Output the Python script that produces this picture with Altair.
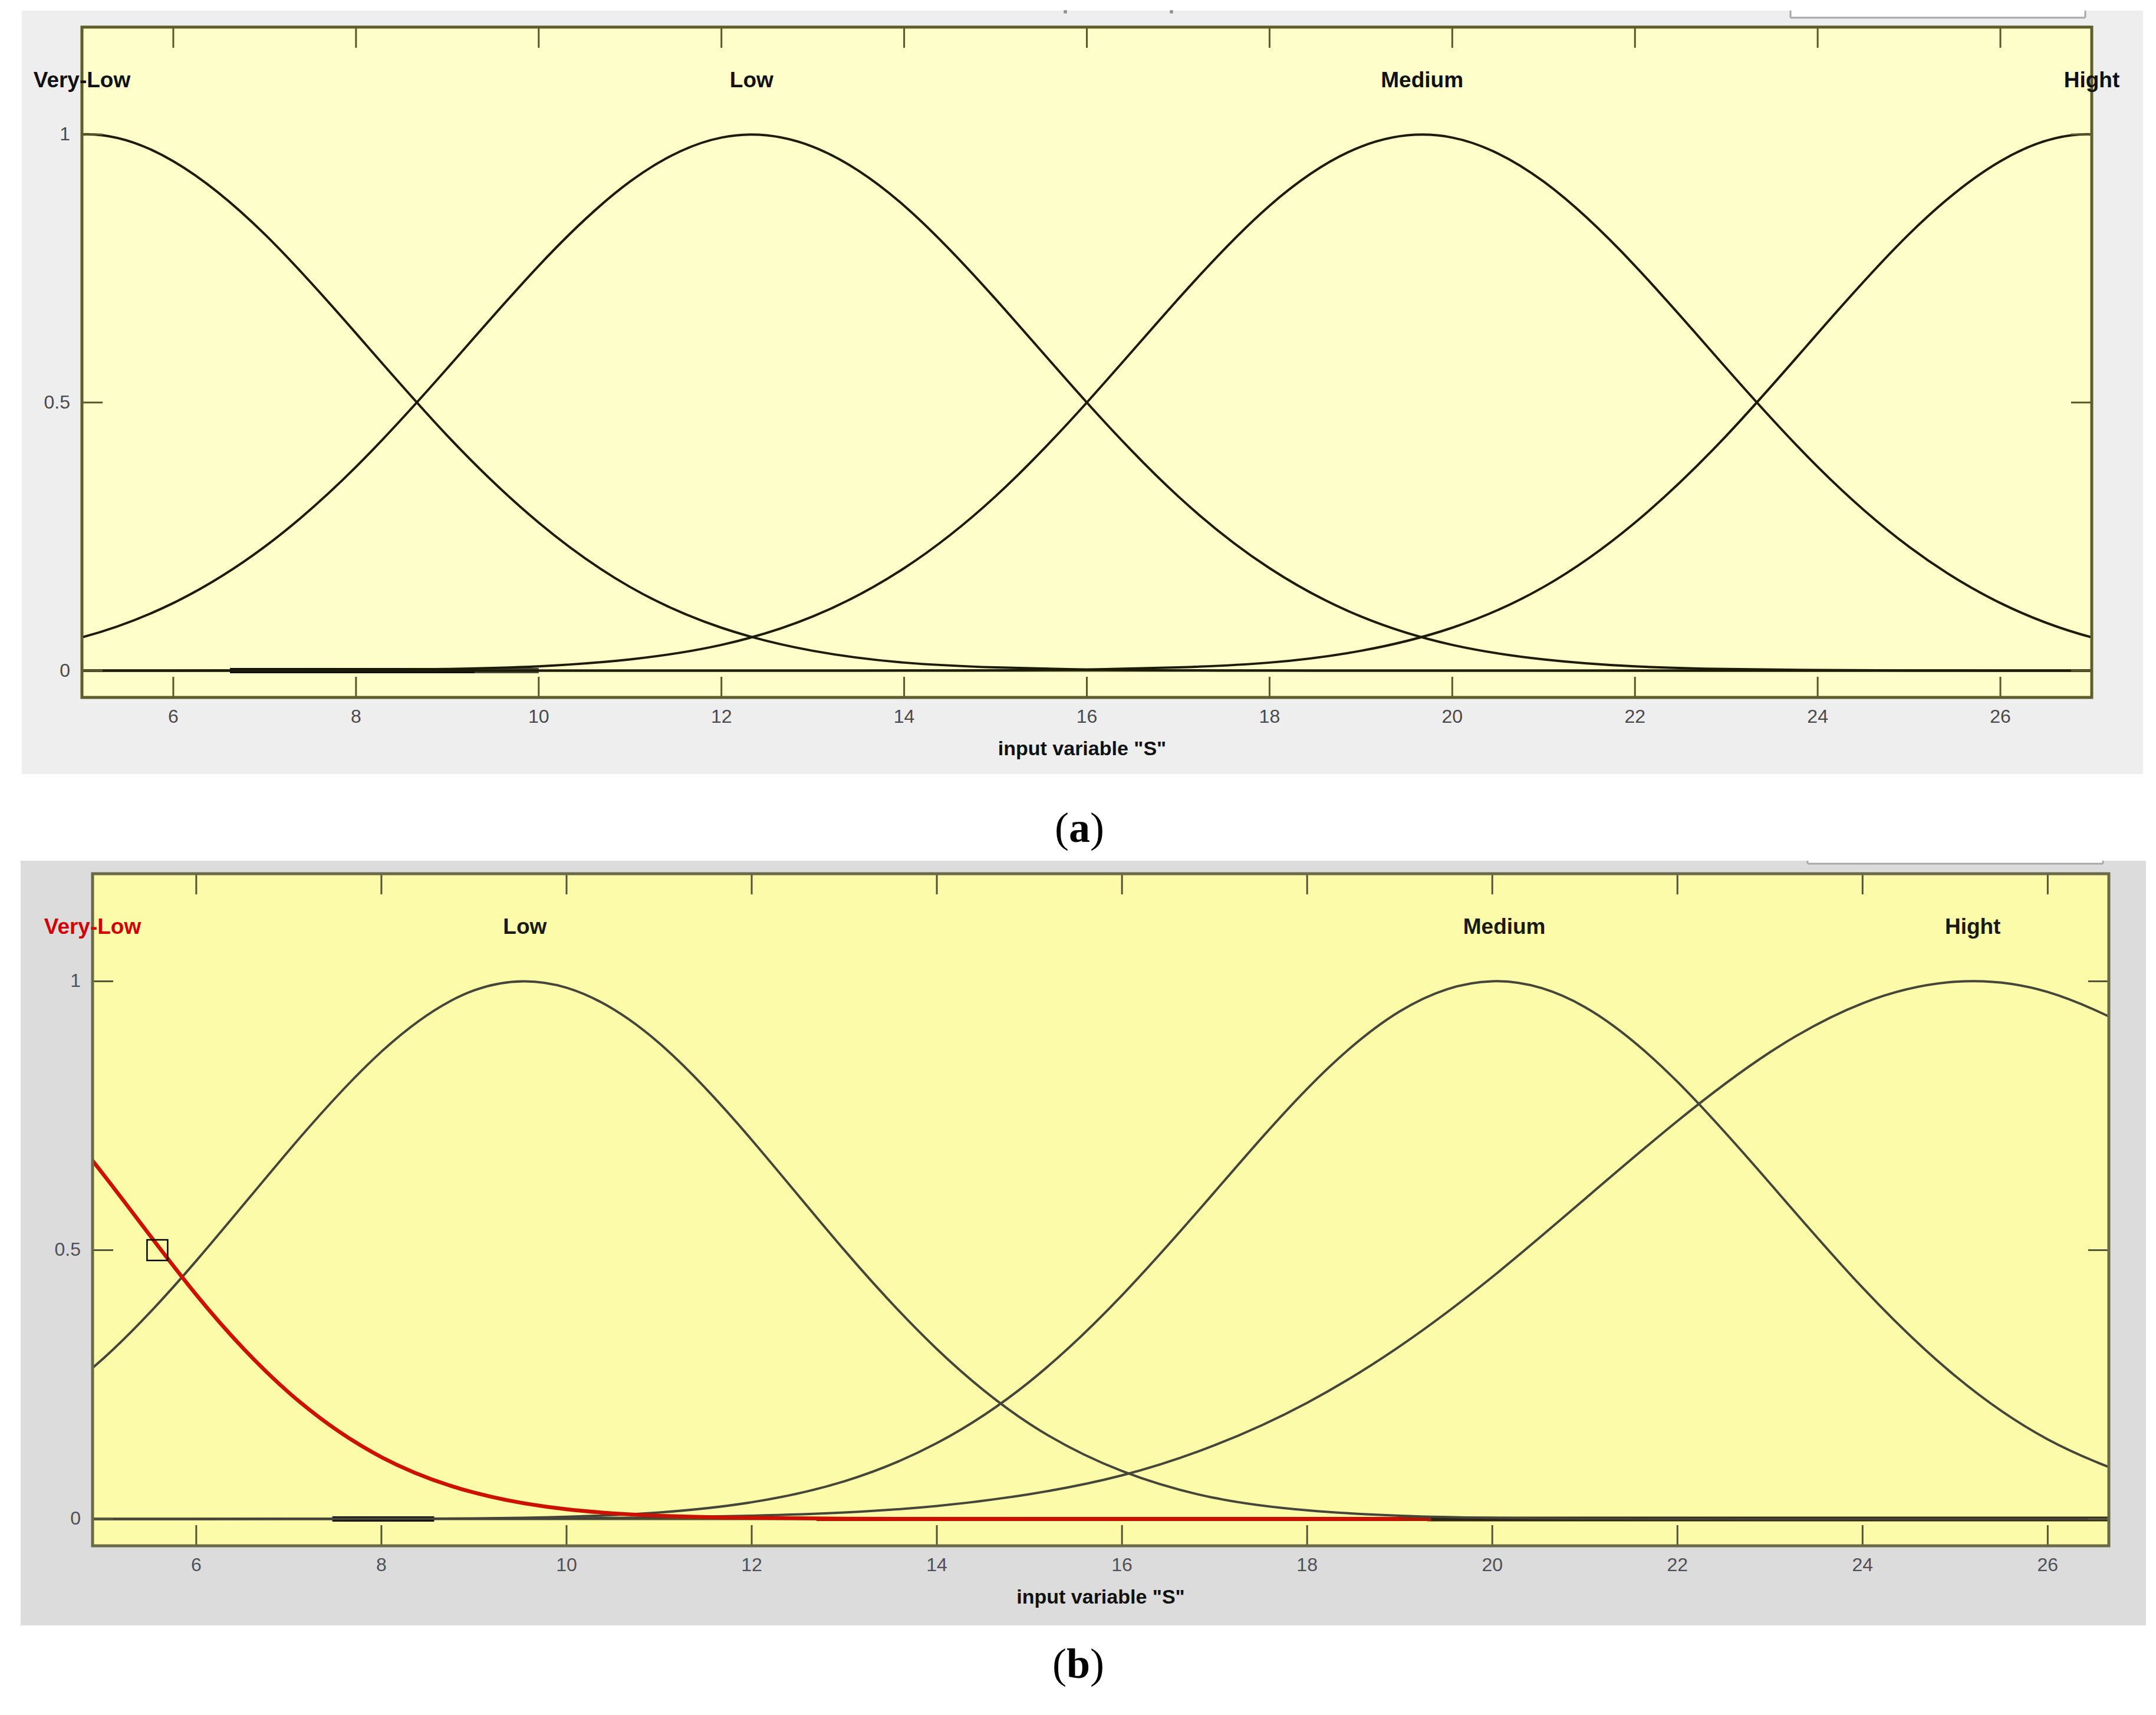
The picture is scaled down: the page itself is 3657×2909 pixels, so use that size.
import altair as alt
import pandas as pd

# ---------------- shared texts / ticks ----------------
MF_NAMES = ["Very-Low", "Low", "Medium", "Hight"]
X_TICKS = [6, 8, 10, 12, 14, 16, 18, 20, 22, 24, 26]
X_TICK_LABELS = ["6", "8", "10", "12", "14", "16", "18", "20", "22", "24", "26"]
Y_TICKS = [0, 0.5, 1]
Y_TICK_LABELS = ["0", "0.5", "1"]
X_TITLE = 'input variable "S"'

# ---------------- panel (a) ----------------
A_DOMAIN = [5, 27]
A_X = list(range(4, 29))
A_VERY_LOW = [0.950, 1.000, 0.950, 0.814, 0.629, 0.438, 0.276, 0.156, 0.080, 0.037,
              0.015, 0.006, 0.002, 0.0006, 0.0002, 0, 0, 0, 0, 0, 0, 0, 0, 0, 0]
A_LOW = [0.028, 0.062, 0.126, 0.231, 0.380, 0.564, 0.755, 0.912, 0.994, 0.977,
         0.867, 0.693, 0.500, 0.325, 0.191, 0.101, 0.048, 0.021, 0.008, 0.003,
         0.001, 0.0003, 0.0001, 0, 0]
A_MEDIUM = [0, 0, 0.0001, 0.0003, 0.001, 0.003, 0.008, 0.021, 0.048, 0.101,
            0.191, 0.325, 0.500, 0.693, 0.867, 0.977, 0.994, 0.912, 0.755, 0.564,
            0.380, 0.231, 0.126, 0.062, 0.028]
A_HIGHT = [0, 0, 0, 0, 0, 0, 0, 0, 0, 0, 0.0002, 0.0006, 0.002, 0.006, 0.015,
           0.037, 0.080, 0.156, 0.276, 0.438, 0.629, 0.814, 0.950, 1.000, 0.950]
A_LABEL_X = [5, 12.33, 19.67, 27]
A_LABEL_Y = [1.1, 1.1, 1.1, 1.1]
A_ZERO_X0 = [5, 6.62, 9.3]
A_ZERO_X1 = [27, 9.3, 10.0]

# ---------------- panel (b) ----------------
B_DOMAIN = [4.88, 26.66]
B_X = list(range(4, 28))
B_VERY_LOW = [0.851, 0.640, 0.417, 0.235, 0.115, 0.049, 0.018, 0.006, 0.002, 0.0004,
              0.0001, 0, 0, 0, 0, 0]  # x = 4 .. 19
B_LOW = [0.166, 0.299, 0.480, 0.685, 0.869, 0.983, 0.988, 0.885, 0.705, 0.500,
         0.316, 0.177, 0.089, 0.039, 0.016, 0.006, 0.002, 0.0005, 0.0001, 0, 0, 0, 0, 0]
B_MEDIUM = [0, 0, 0, 0.0001, 0.0004, 0.001, 0.004, 0.012, 0.031, 0.070,
            0.141, 0.255, 0.416, 0.608, 0.800, 0.944, 1.000, 0.952, 0.813, 0.624,
            0.430, 0.266, 0.148, 0.074]
B_HIGHT = [0, 0, 0, 0.0001, 0.0002, 0.0004, 0.001, 0.0025, 0.006, 0.012,
           0.024, 0.046, 0.081, 0.137, 0.216, 0.321, 0.450, 0.595, 0.740, 0.868,
           0.959, 0.999, 0.980, 0.906]
B_LABEL_X = [4.88, 9.55, 20.13, 25.19]
B_LABEL_Y = [1.1, 1.1, 1.1, 1.1]
B_MARKER_X = [5.58]
B_MARKER_Y = [0.5]
B_ZERO_X0 = [4.88, 19.3, 7.47, 12.7]
B_ZERO_X1 = [19.3, 26.66, 8.57, 19.34]

ONE = pd.DataFrame({"k": [0]})
YDOM = [-0.05, 1.2]


def px_rect(x, x2, y, y2, **mk):
    return alt.Chart(ONE).mark_rect(**mk).encode(
        x=alt.value(x), x2=alt.value(x2), y=alt.value(y), y2=alt.value(y2))


def px_rule(x, x2, y, y2, color, width):
    return alt.Chart(ONE).mark_rule(color=color, strokeWidth=width).encode(
        x=alt.value(x), x2=alt.value(x2), y=alt.value(y), y2=alt.value(y2))


def px_text(x, y, text, **mk):
    return alt.Chart(ONE).mark_text(text=text, **mk).encode(x=alt.value(x), y=alt.value(y))


def caption(cx, y, letter, lw):
    tot = 24 + lw + 24
    x0 = cx - tot / 2
    common = dict(font="Liberation Serif", fontSize=72, color="black",
                  align="center", baseline="alphabetic")
    return [
        px_text(x0 + 12, y, "(", **common),
        px_text(x0 + 24 + lw / 2, y, letter, fontWeight="bold", **common),
        px_text(x0 + 24 + lw + 12, y, ")", **common),
    ]


def panel(W, H, dx, dom, xs, series, line_col, line_w, label_x, label_y, label_cols,
          zero_x0, zero_x1, zero_cols, zero_w, gray, yellow, frame_col, tick_col,
          tick_lab_col, ext, gray_ext, title_dx, cap, box, extra):
    xs_ = alt.Scale(domain=dom, range=[dx, W + dx], nice=False, zero=False)
    ys_ = alt.Scale(domain=YDOM, nice=False, zero=False)

    rows = []
    for name, vals in series:
        for xv, yv in zip(xs, vals):
            rows.append({"x": xv, "y": yv, "mf": name})
    ldf = pd.DataFrame(rows)

    layers = []
    # invisible bounds + grey panel + yellow plot area
    layers.append(px_rect(ext[0] + dx, W + ext[1] + dx, ext[2], H + ext[3], color="white"))
    layers.append(px_rect(gray_ext[0] + dx, W + gray_ext[1] + dx, gray_ext[2], H + gray_ext[3],
                          color=gray))
    layers.append(px_rect(dx, W + dx, 0, H, color=yellow))

    # zero line and thick near-zero segments
    zdf = pd.DataFrame({"x0": zero_x0, "x1": zero_x1, "y0": [0] * len(zero_x0),
                        "col": zero_cols, "sw": zero_w})
    layers.append(alt.Chart(zdf).mark_rule().encode(
        x=alt.X("x0:Q", scale=xs_, axis=None), x2="x1:Q",
        y=alt.Y("y0:Q", scale=ys_, axis=None),
        color=alt.Color("col:N", scale=None), strokeWidth=alt.StrokeWidth("sw:Q", scale=None)))

    # membership function curves
    layers.append(alt.Chart(ldf).mark_line(interpolate="natural", clip=True,
                                           strokeWidth=line_w, color=line_col).encode(
        x=alt.X("x:Q", scale=xs_, axis=None),
        y=alt.Y("y:Q", scale=ys_, axis=None),
        detail="mf:N"))

    for lay in extra(xs_, ys_, dx):
        layers.append(lay)

    # cover the strip between the group origin and the shifted plot area
    if dx > 0:
        layers.append(px_rect(0, dx - 1, 0, H, color=gray))

    # inner tick marks
    tdf = pd.DataFrame({"t": X_TICKS, "lab": X_TICK_LABELS})
    ydf = pd.DataFrame({"t": Y_TICKS, "lab": Y_TICK_LABELS})
    for y1, y2 in [(H, H - 35), (0, 35)]:
        layers.append(alt.Chart(tdf).mark_rule(color=tick_col, strokeWidth=3).encode(
            x=alt.X("t:Q", scale=xs_, axis=None), y=alt.value(y1), y2=alt.value(y2)))
    for x1, x2 in [(dx, dx + 35), (W + dx - 35, W + dx)]:
        layers.append(alt.Chart(ydf).mark_rule(color=tick_col, strokeWidth=3).encode(
            y=alt.Y("t:Q", scale=ys_, axis=None), x=alt.value(x1), x2=alt.value(x2)))

    # tick labels
    layers.append(alt.Chart(tdf).mark_text(font="Liberation Sans", fontSize=32,
                                           color=tick_lab_col, align="center",
                                           baseline="middle").encode(
        x=alt.X("t:Q", scale=xs_, axis=None), y=alt.value(H + 33), text="lab:N"))
    layers.append(alt.Chart(ydf).mark_text(font="Liberation Sans", fontSize=32,
                                           color=tick_lab_col, align="right",
                                           baseline="middle").encode(
        y=alt.Y("t:Q", scale=ys_, axis=None), x=alt.value(dx - 20), text="lab:N"))

    # frame
    layers.append(px_rect(dx, W + dx, 0, H, filled=False, stroke=frame_col, strokeWidth=5))

    # MF labels
    labdf = pd.DataFrame({"lx": label_x, "ly": label_y, "label": MF_NAMES, "col": label_cols})
    layers.append(alt.Chart(labdf).mark_text(font="Liberation Sans", fontSize=37,
                                             fontWeight="bold", align="center",
                                             baseline="middle").encode(
        x=alt.X("lx:Q", scale=xs_, axis=None), y=alt.Y("ly:Q", scale=ys_, axis=None),
        text="label:N", color=alt.Color("col:N", scale=None)))

    # axis title
    layers.append(px_text(W / 2 + title_dx + dx, H + 88, X_TITLE, font="Liberation Sans",
                          fontSize=34, fontWeight="bold", color="#111111",
                          align="center", baseline="middle"))

    # caption
    layers += caption(cap[0] + dx, H + cap[1], cap[2], cap[3])

    # UI box fragment at top right
    bx0, bx1, by0, by_g, by1 = box
    layers.append(px_rect(W + bx0 + dx, W + bx1 + dx, by0, by1, color="white"))
    layers.append(px_rule(W + bx0 + dx, W + bx0 + dx, by_g, by1, "#a8a8a8", 3))
    layers.append(px_rule(W + bx1 + dx, W + bx1 + dx, by_g, by1, "#a8a8a8", 3))
    layers.append(px_rule(W + bx0 + dx, W + bx1 + dx, by1, by1, "#a8a8a8", 3))

    return alt.layer(*layers).properties(width=W + dx, height=H)


def extra_a(xs_, ys_, dx):
    return [
        alt.Chart(ONE).mark_point(shape="square", filled=True, size=30, color="#666666").encode(
            x=alt.value(1668 + dx), y=alt.value(-26)),
        alt.Chart(ONE).mark_point(shape="square", filled=True, size=30, color="#666666").encode(
            x=alt.value(1848 + dx), y=alt.value(-26)),
    ]


def extra_b(xs_, ys_, dx):
    vdf = pd.DataFrame({"x": B_X[:len(B_VERY_LOW)], "y": B_VERY_LOW})
    mdf = pd.DataFrame({"x": B_MARKER_X, "y": B_MARKER_Y})
    return [
        alt.Chart(vdf).mark_line(interpolate="natural", clip=True, strokeWidth=6.5,
                                 color="#cc1100").encode(
            x=alt.X("x:Q", scale=xs_, axis=None), y=alt.Y("y:Q", scale=ys_, axis=None)),
        alt.Chart(mdf).mark_point(shape="square", filled=False, size=1225, color="black",
                                  strokeWidth=2.5, opacity=1).encode(
            x=alt.X("x:Q", scale=xs_, axis=None), y=alt.Y("y:Q", scale=ys_, axis=None)),
    ]


WA, HA = 3409, 1137
WB, HB = 3420, 1140

panel_a = panel(
    WA, HA, 0, A_DOMAIN, A_X,
    [("Very-Low", A_VERY_LOW), ("Low", A_LOW), ("Medium", A_MEDIUM), ("Hight", A_HIGHT)],
    "#1c1c06", 4,
    A_LABEL_X, A_LABEL_Y, ["#111111"] * 4,
    A_ZERO_X0, A_ZERO_X1, ["#55552a", "#111111", "#4a4a40"], [4, 9, 9],
    "#eeeeee", "#fefecb", "#5e5e2a", "#58582a", "#4a4a4a",
    ext=(-131, 87, -38, 275), gray_ext=(-102, 87, -28, 130), title_dx=-8,
    cap=(1692, 245, "a", 36), box=(-511, -11, -38, -28, -16), extra=extra_a)

panel_b = panel(
    WB, HB, 18, B_DOMAIN, B_X,
    [("Low", B_LOW), ("Medium", B_MEDIUM), ("Hight", B_HIGHT)],
    "#45453a", 4,
    B_LABEL_X, B_LABEL_Y, ["#d40000", "#1a1a10", "#1a1a10", "#1a1a10"],
    B_ZERO_X0, B_ZERO_X1, ["#5a5530", "#2e2410", "#111111", "#b01800"], [4, 8, 9, 7],
    "#dcdcdc", "#fbfba9", "#6a6a48", "#55553a", "#505058",
    ext=(-149, 63, -24, 275), gray_ext=(-122, 63, -22, 135), title_dx=0,
    cap=(1672, 224, "b", 40), box=(-511, -10, -24, -22, -17), extra=extra_b)

chart = alt.vconcat(panel_a, panel_b, spacing=0).properties(
    padding=0, background="white").configure_view(strokeWidth=0)

chart.save("out.html", embed_options={"renderer": "svg", "actions": False})
